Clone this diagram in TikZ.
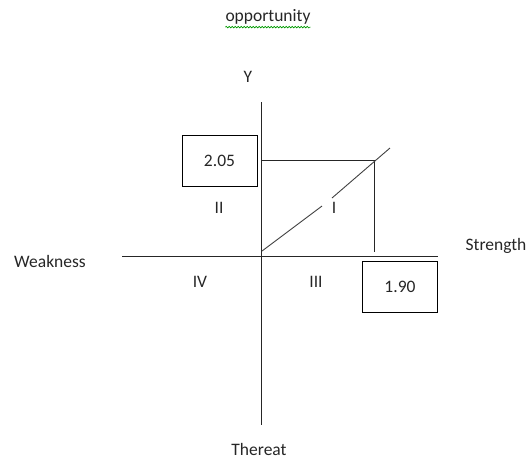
\documentclass[tikz,border=0pt]{standalone}
\usepackage{fontspec}
\setmainfont{Carlito}
\usetikzlibrary{decorations.pathmorphing}
\tikzset{
  lbl/.style={inner sep=0pt, font=\fontsize{17.5}{20}\selectfont, text=black!85},
  valbox/.style={draw, line width=0.9pt, minimum width=75pt, minimum height=51pt, inner sep=0pt, font=\fontsize{17.5}{20}\selectfont, text=black!85},
  ln/.style={line width=0.9pt, draw=black!85}
}
\begin{document}
\begin{tikzpicture}[x=1pt,y=-1pt]
\useasboundingbox (0,0) rectangle (528,459);
% axes
\coordinate (vt) at (261,102);
\coordinate (vb) at (261,425);
\coordinate (hl) at (122,256);
\coordinate (hr) at (438,256);
\draw[ln] (vt) -- (vb);
\draw[ln] (hl) -- (hr);
% guide lines
\coordinate (g1) at (261,160);
\coordinate (g2) at (374,160);
\coordinate (g3) at (374,252);
\draw[ln] (g1) -- (g2) -- (g3);
% diagonal with gap
\coordinate (d0) at (262,251);
\coordinate (d1) at (322,206);
\coordinate (d2) at (332,198);
\coordinate (d3) at (390,148);
\draw[ln, draw=black!75] (d0) -- (d1);
\draw[ln, draw=black!75] (d2) -- (d3);
% boxes
\node[valbox] (b205) at (219.5,160.5) {2.05};
\node[valbox] (b190) at (400,286.5) {1.90};
% labels
\node[lbl] (opp) at (268,17) {opportunity};
\draw[green!60!black, line width=0.6pt, decorate, decoration={snake, amplitude=0.8pt, segment length=3pt}] ([yshift=-2.5pt]opp.south west) -- ([yshift=-2.5pt]opp.south east);
\node[lbl] (Y) at (248,77) {Y};
\node[lbl] (str) at (496,246) {Strength};
\node[lbl] (weak) at (50,261) {Weakness};
\node[lbl] (thr) at (259,449) {Thereat};
\node[lbl] (q2) at (219,208) {II};
\node[lbl] (q1) at (334,208) {I};
\node[lbl] (q4) at (200,282) {IV};
\node[lbl] (q3) at (316,282) {III};
\end{tikzpicture}
\end{document}
